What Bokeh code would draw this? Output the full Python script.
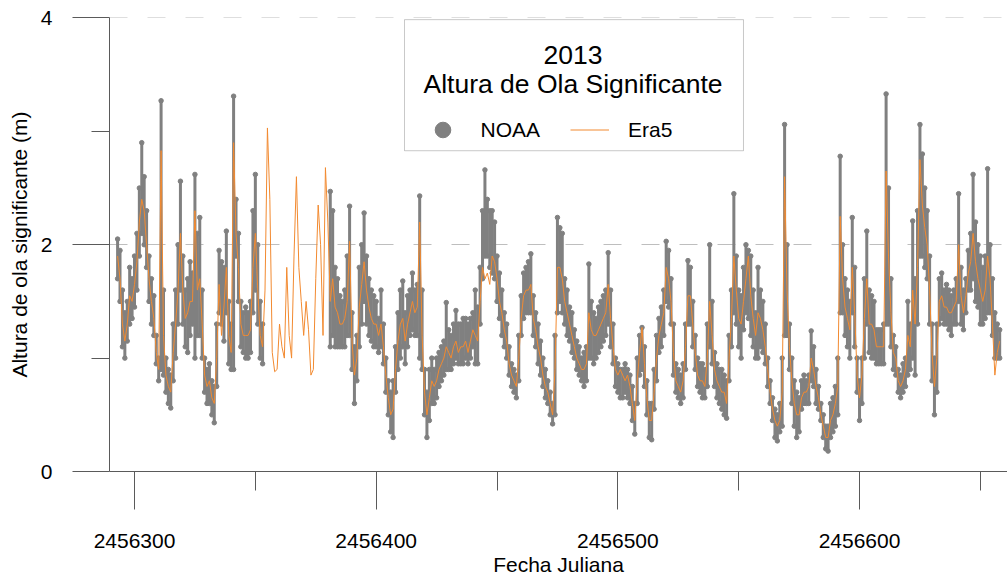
import numpy as np
from bokeh.plotting import figure
from bokeh.models import (Range1d, FixedTicker, BasicTickFormatter, BoxAnnotation,
                          Label, Legend, LegendItem, ColumnDataSource)
from bokeh.embed import file_html
from bokeh.resources import INLINE

N = None
FIRST_DAY = 2456293  # Julian day of the first daily column

# NOAA significant wave height, daily upper / lower extent of the hourly cloud (m)
noaa_hi = [
    2.05, 1.95, 1.60, 1.40, 1.50, 1.80, 1.70,
    1.90, 2.10, 2.50, 2.90, 2.60, 2.30, 1.90, 1.70, 1.55, 1.20,
    1.00, 3.27, 1.60, 1.00, 0.90, 0.85, 1.30, 1.60, 2.00, 2.56,
    1.90, 1.60, 1.70, 1.85, 1.75, 2.62, 2.10, 2.24, 1.60, 1.00,
    0.90, 0.95, 0.80, 0.75, 1.30, 1.95, 1.85, 1.80, 2.12, 1.50,
    1.30, 3.31, 2.40, 2.10, 1.50, 1.40, 1.45, 1.40, 1.50, 2.30,
    2.62, 2.00, 1.50, 1.30, N, N, N, N, N, N,
    N, N, N, N, N, N, N, N, N, N,
    N, N, N, N, N, N, N, N, N, N,
    N, 2.47, 2.30, 1.80, 1.70, 1.55, 1.50, 1.60, 1.90, 2.34,
    1.40, 1.10, 1.20, 1.80, 2.00, 2.28, 1.90, 1.70, 1.60, 1.55,
    1.50, 1.35, 1.60, 1.30, 1.00, 0.80, 0.70, 0.80, 1.10, 1.40,
    1.60, 1.68, 1.40, 1.55, 1.60, 1.75, 1.60, 1.65, 2.43, 1.60,
    0.90, 0.70, 0.90, 1.00, 0.90, 1.00, 1.05, 1.10, 1.15, 1.49,
    1.25, 1.20, 1.30, 1.42, 1.30, 1.30, 1.35, 1.35, 1.30, 1.35,
    1.40, 1.60, 1.45, 1.80, 2.30, 2.66, 2.40, 2.30, 2.30, 2.20,
    1.90, 1.75, 1.60, 1.40, 1.30, 1.10, 0.95, 0.90, 0.85, 1.20,
    1.55, 1.75, 1.80, 1.85, 1.92, 1.55, 1.40, 1.30, 1.15, 1.00,
    0.90, 0.80, 0.70, 0.60, 1.20, 2.24, 2.15, 2.10, 1.70, 1.60,
    1.45, 1.40, 1.25, 1.15, 1.10, 1.00, 1.05, 1.10, 1.83, 1.50,
    1.40, 1.35, 1.45, 1.50, 1.55, 1.60, 1.93, 1.60, 1.30, 1.00,
    0.95, 0.90, 0.90, 0.95, 0.90, 0.85, 0.75, 0.60, 1.00, 1.20,
    1.27, 1.10, 0.80, 0.60, 0.60, 0.90, 1.20, 1.35, 1.45, 1.60,
    2.03, 1.95, 1.70, 1.30, 0.95, 0.90, 0.85, 0.95, 1.30, 1.86,
    1.80, 1.50, 1.20, 1.00, 0.95, 0.95, 0.90, 1.30, 2.00, 1.50,
    1.05, 0.95, 0.90, 0.90, 0.85, 0.80, 1.20, 1.60, 2.45, 1.90,
    1.60, 1.55, 1.80, 2.00, 1.95, 1.90, 1.60, 1.40, 1.80, 1.60,
    1.50, 1.30, 1.00, 0.80, 0.65, 0.55, 0.50, 0.60, 1.00, 3.06,
    2.00, 1.30, 1.00, 0.80, 0.70, 0.65, 0.80, 0.85, 0.80, 0.85,
    1.24, 1.10, 0.90, 0.75, 0.60, 0.50, 0.40, 0.40, 0.60, 0.65,
    0.75, 1.00, 2.78, 2.00, 1.70, 1.60, 1.50, 2.24, 1.80, 1.00,
    0.80, 1.00, 1.70, 2.12, 1.60, 1.55, 1.50, 1.25, 1.25, 1.25,
    1.30, 3.33, 2.50, 1.70, 1.20, 1.10, 0.90, 0.85, 0.95, 1.00,
    1.50, 1.30, 2.21, 1.70, 2.30, 3.06, 2.80, 2.50, 2.30, 1.90,
    1.30, 1.00, 1.30, 1.70, 1.75, 1.60, 1.65, 1.60, 1.55, 1.60,
    1.70, 2.45, 1.80, 1.60, 1.70, 1.95, 2.10, 2.62, 2.20, 2.00,
    1.90, 1.80, 1.90, 2.67, 2.00, 1.70, 1.40, 1.30, 1.25,
]
noaa_lo = [
    1.70, 1.50, 1.10, 1.00, 1.15, 1.30, 1.35,
    1.45, 1.60, 1.90, 2.10, 2.00, 1.80, 1.50, 1.30, 1.20, 0.95,
    0.80, 0.90, 0.85, 0.70, 0.60, 0.56, 0.80, 1.00, 1.30, 1.60,
    1.30, 1.10, 1.05, 1.20, 1.30, 1.00, 1.20, 1.20, 1.00, 0.70,
    0.60, 0.60, 0.50, 0.43, 0.75, 1.40, 1.30, 1.15, 1.40, 0.95,
    0.90, 0.90, 1.90, 1.50, 1.10, 1.05, 1.00, 1.00, 1.05, 1.40,
    1.60, 1.30, 1.00, 0.95, N, N, N, N, N, N,
    N, N, N, N, N, N, N, N, N, N,
    N, N, N, N, N, N, N, N, N, N,
    N, 1.10, 1.20, 1.10, 1.10, 1.10, 1.10, 1.10, 1.20, 1.20,
    0.90, 0.60, 0.80, 1.10, 1.30, 1.50, 1.30, 1.20, 1.15, 1.10,
    1.10, 1.05, 1.10, 0.95, 0.70, 0.50, 0.35, 0.30, 0.70, 0.90,
    1.00, 1.10, 0.95, 1.10, 1.20, 1.25, 1.20, 1.20, 1.00, 0.90,
    0.50, 0.30, 0.45, 0.60, 0.60, 0.65, 0.75, 0.80, 0.85, 0.90,
    0.90, 0.90, 0.95, 1.00, 0.95, 0.95, 0.95, 1.00, 0.95, 1.00,
    1.10, 0.95, 0.95, 1.30, 1.70, 1.90, 1.90, 1.80, 1.75, 1.70,
    1.50, 1.35, 1.20, 1.10, 1.00, 0.85, 0.75, 0.70, 0.65, 0.80,
    1.20, 1.35, 1.40, 1.40, 1.40, 1.20, 1.10, 0.95, 0.85, 0.75,
    0.65, 0.60, 0.50, 0.42, 0.50, 1.40, 1.50, 1.40, 1.30, 1.20,
    1.15, 1.05, 1.00, 0.90, 0.85, 0.80, 0.75, 0.80, 1.00, 1.00,
    0.95, 1.00, 1.05, 1.10, 1.15, 1.20, 1.30, 1.10, 0.95, 0.75,
    0.70, 0.65, 0.65, 0.70, 0.65, 0.60, 0.45, 0.33, 0.60, 0.85,
    0.90, 0.75, 0.50, 0.30, 0.28, 0.55, 0.80, 1.05, 1.10, 1.20,
    1.50, 1.45, 1.30, 0.85, 0.70, 0.65, 0.60, 0.65, 0.90, 1.30,
    1.30, 1.10, 0.90, 0.75, 0.70, 0.65, 0.65, 0.75, 1.10, 0.95,
    0.75, 0.65, 0.60, 0.55, 0.50, 0.47, 0.80, 1.10, 1.40, 1.30,
    1.10, 1.00, 1.25, 1.40, 1.35, 1.20, 1.10, 1.00, 1.00, 1.10,
    1.05, 0.95, 0.75, 0.60, 0.45, 0.30, 0.27, 0.35, 0.40, 1.20,
    1.20, 0.90, 0.60, 0.40, 0.30, 0.35, 0.55, 0.60, 0.60, 0.60,
    0.80, 0.75, 0.60, 0.55, 0.45, 0.30, 0.20, 0.18, 0.30, 0.35,
    0.40, 0.50, 1.40, 1.40, 1.20, 1.10, 1.00, 1.40, 1.10, 0.70,
    0.45, 0.60, 1.00, 1.30, 1.05, 1.00, 1.00, 0.95, 0.95, 0.95,
    0.95, 1.30, 1.30, 1.10, 0.90, 0.85, 0.70, 0.65, 0.70, 0.75,
    0.85, 0.90, 1.00, 0.85, 1.30, 1.90, 1.90, 1.80, 1.70, 1.30,
    0.80, 0.50, 0.70, 1.30, 1.35, 1.30, 1.30, 1.25, 1.20, 1.30,
    1.30, 1.50, 1.30, 1.25, 1.40, 1.60, 1.60, 1.70, 1.50, 1.45,
    1.30, 1.30, 1.35, 1.40, 1.40, 1.20, 1.00, 1.00, 1.00,
]
# Era5 significant wave height (m), daily
era5 = [
    1.90, 1.70, 1.30, 1.15, 1.30, 1.55, 1.50,
    1.65, 1.85, 2.20, 2.40, 2.30, 2.00, 1.70, 1.50, 1.35, 1.05,
    0.90, 2.83, 1.20, 0.85, 0.75, 0.70, 1.05, 1.30, 1.60, 2.10,
    1.60, 1.35, 1.40, 1.50, 1.50, 2.30, 1.60, 1.70, 1.30, 0.85,
    0.75, 0.80, 0.65, 0.60, 1.00, 1.65, 1.20, 1.45, 1.80, 1.20,
    1.05, 2.90, 2.10, 1.80, 1.30, 1.20, 1.20, 1.20, 1.25, 1.80,
    2.10, 1.60, 1.20, 1.10, 1.60, 3.03, 2.40, 1.05, 0.88, 0.90,
    1.30, 1.10, 1.00, 1.80, 1.20, 1.00, 1.90, 2.60, 1.80, 1.50,
    1.20, 1.50, 1.25, 0.85, 0.90, 1.70, 2.35, 2.00, 1.20, 2.68,
    2.20, 1.50, 1.70, 1.45, 1.40, 1.30, 1.30, 1.35, 1.50, 2.03,
    1.15, 0.85, 1.00, 1.45, 1.65, 1.85, 1.60, 1.45, 1.35, 1.30,
    1.30, 1.20, 1.30, 1.10, 0.85, 0.65, 0.50, 0.55, 0.90, 1.15,
    1.30, 1.35, 1.15, 1.30, 1.40, 1.50, 1.40, 1.45, 2.20, 1.20,
    0.70, 0.50, 0.65, 0.80, 0.75, 0.80, 0.90, 0.95, 1.00, 1.10,
    1.05, 1.00, 1.10, 1.15, 1.05, 1.10, 1.10, 1.15, 1.05, 1.15,
    1.25, 1.20, 1.15, 1.50, 1.80, 1.70, 1.75, 1.65, 1.90, 1.85,
    1.70, 1.50, 1.40, 1.25, 1.15, 0.95, 0.85, 0.80, 0.75, 1.00,
    1.35, 1.55, 1.60, 1.60, 1.65, 1.35, 1.25, 1.10, 1.00, 0.85,
    0.75, 0.70, 0.60, 0.50, 0.90, 1.80, 1.80, 1.70, 1.50, 1.40,
    1.30, 1.20, 1.10, 1.00, 0.95, 0.90, 0.90, 0.95, 1.40, 1.25,
    1.20, 1.20, 1.25, 1.30, 1.35, 1.40, 1.65, 1.35, 1.10, 0.90,
    0.85, 0.90, 0.85, 0.80, 0.85, 0.75, 0.60, 0.45, 0.80, 1.05,
    1.27, 0.95, 0.65, 0.45, 0.45, 0.70, 1.00, 1.20, 1.30, 1.40,
    1.80, 1.70, 1.50, 1.05, 0.80, 0.75, 0.70, 0.80, 1.10, 1.55,
    1.55, 1.30, 1.05, 0.85, 0.80, 0.80, 0.75, 1.00, 1.50, 1.20,
    0.90, 0.80, 0.75, 0.70, 0.70, 0.60, 1.00, 1.35, 1.90, 1.60,
    1.35, 1.30, 1.50, 1.70, 1.90, 1.55, 1.35, 1.20, 1.40, 1.35,
    1.25, 1.10, 0.90, 0.70, 0.55, 0.45, 0.40, 0.45, 0.70, 2.60,
    1.60, 1.10, 0.80, 0.60, 0.50, 0.50, 0.65, 0.70, 0.70, 0.75,
    1.00, 0.90, 0.75, 0.65, 0.50, 0.40, 0.30, 0.30, 0.45, 0.50,
    0.60, 0.75, 2.25, 1.70, 1.45, 1.35, 1.25, 1.80, 1.40, 0.85,
    0.65, 0.85, 1.35, 1.70, 1.30, 1.30, 1.25, 1.10, 1.10, 1.10,
    1.10, 2.65, 1.90, 1.40, 1.05, 1.00, 0.80, 0.75, 0.80, 0.90,
    1.20, 1.10, 1.60, 1.30, 1.80, 2.75, 2.35, 2.15, 2.00, 1.60,
    1.05, 0.75, 1.00, 1.50, 1.55, 1.45, 1.45, 1.40, 1.40, 1.45,
    1.50, 2.00, 1.55, 1.40, 1.55, 1.75, 1.85, 2.10, 1.85, 1.70,
    1.60, 1.50, 1.60, 1.90, 1.70, 1.30, 0.85, 1.05, 1.15,
]
x_ticks = [2456300, 2456400, 2456500, 2456600]
x_minor_ticks = [2456350, 2456450, 2456550, 2456650]
y_ticks = [0, 2, 4]
y_minor_ticks = [1, 3]
dashed_levels = [2, 4]
title_lines = ["2013", "Altura de Ola Significante"]
series_names = ["NOAA", "Era5"]

assert len(noaa_hi) == len(noaa_lo) == len(era5) == 366

days = FIRST_DAY + np.arange(len(era5))
hi = np.array(noaa_hi, dtype=float)
lo = np.array(noaa_lo, dtype=float)
ok = ~np.isnan(hi)

GRAY = "#808080"
ORANGE = "#F28A30"
AXIS = "#5a5a5a"
FONT = "Liberation Sans"

noaa_src = ColumnDataSource(dict(day=days[ok], hi=hi[ok], lo=lo[ok]))
era_src = ColumnDataSource(dict(day=days, hs=np.array(era5, dtype=float)))

p = figure(width=1007, height=582,
           x_range=Range1d(2456289.65, 2456661.23), y_range=Range1d(0, 4.004),
           output_backend="svg", toolbar_location=None,
           min_border_left=109, min_border_right=0, min_border_top=17,
           min_border_bottom=111)
p.outline_line_color = None
p.background_fill_color = "white"
p.border_fill_color = "white"

# axes
p.xaxis.ticker = FixedTicker(ticks=x_ticks, minor_ticks=x_minor_ticks)
p.xaxis.formatter = BasicTickFormatter(use_scientific=False)
p.yaxis.ticker = FixedTicker(ticks=y_ticks, minor_ticks=y_minor_ticks)
p.xaxis.axis_label = "Fecha Juliana"
p.yaxis.axis_label = "Altura de ola significante (m)"
for ax in (p.xaxis, p.yaxis):
    ax.axis_line_color = AXIS
    ax.major_tick_line_color = AXIS
    ax.minor_tick_line_color = AXIS
    ax.major_tick_in = 0
    ax.minor_tick_in = 0
    ax.major_label_text_font = FONT
    ax.major_label_text_font_size = "21px"
    ax.major_label_text_color = "black"
    ax.axis_label_text_font = FONT
    ax.axis_label_text_font_size = "21px"
    ax.axis_label_text_font_style = "normal"
    ax.axis_label_text_color = "black"
p.xaxis.major_tick_out = 38
p.xaxis.minor_tick_out = 19
p.xaxis.major_label_standoff = 24
p.xaxis.axis_label_standoff = 2
p.yaxis.major_tick_out = 37
p.yaxis.minor_tick_out = 18
p.yaxis.major_label_standoff = 20
p.yaxis.axis_label_standoff = 7

# grid: dashed horizontal lines
p.xgrid.visible = False
p.ygrid.ticker = FixedTicker(ticks=dashed_levels)
p.ygrid.grid_line_color = "#bebebe"
p.ygrid.grid_line_dash = "18 20"
p.ygrid.grid_line_width = 1

# data
p.segment(x0="day", y0="lo", x1="day", y1="hi", source=noaa_src,
          line_color=GRAY, line_width=3)
noaa_r = p.scatter("day", "hi", source=noaa_src, size=4.5, color=GRAY)
p.scatter("day", "lo", source=noaa_src, size=4.5, color=GRAY)
era_r = p.line("day", "hs", source=era_src, line_color=ORANGE, line_width=1)

# legend box with two-line title
box = BoxAnnotation(left=2456411.72, right=2456551.99, bottom=2.829, top=3.985,
                    fill_color="white", fill_alpha=1.0,
                    line_color="#4d4d4d", line_width=1)
p.add_layout(box)
p.add_layout(Label(x=2456481.44, y=3.672, text=title_lines[0], text_align="center",
                   text_baseline="alphabetic", text_font=FONT,
                   text_font_size="26.5px", text_color="black"))
p.add_layout(Label(x=2456481.44, y=3.418, text=title_lines[1], text_align="center",
                   text_baseline="alphabetic", text_font=FONT,
                   text_font_size="26.5px", text_color="black"))

legend = Legend(items=[LegendItem(label=series_names[0], renderers=[noaa_r]),
                       LegendItem(label=series_names[1], renderers=[era_r])],
                orientation="horizontal", location=(313.5, 322),
                glyph_width=39, glyph_height=39, label_standoff=19, spacing=30,
                padding=0, margin=0, border_line_color=None,
                background_fill_alpha=0.0,
                label_text_font=FONT, label_text_font_size="21px",
                label_text_color="black")
p.add_layout(legend)

open("out.html", "w").write(file_html(p, INLINE))
